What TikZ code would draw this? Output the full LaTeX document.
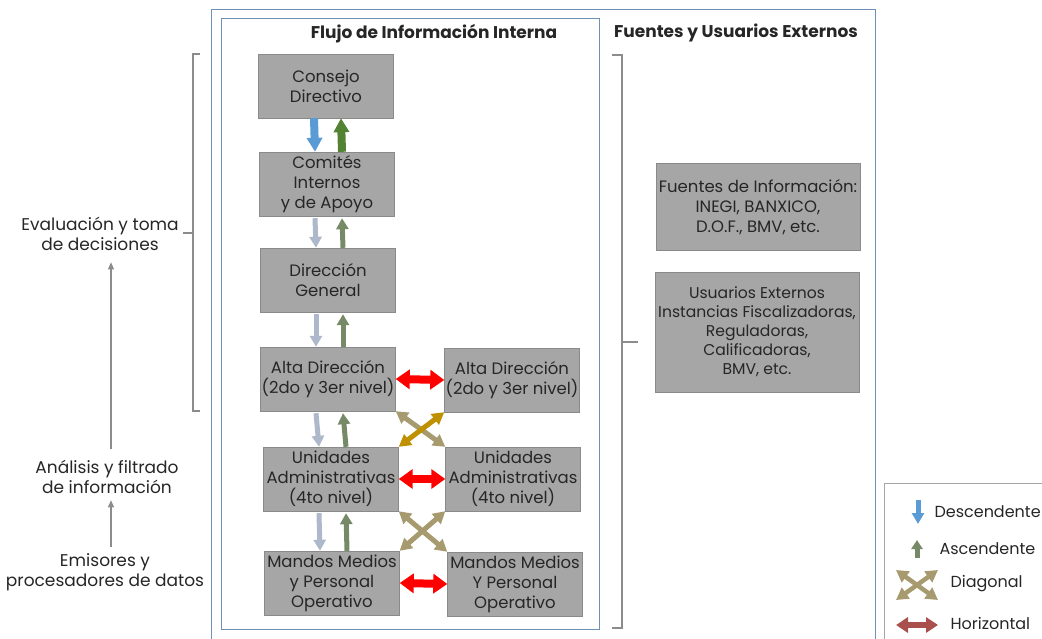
\documentclass[tikz,border=0pt]{standalone}
\usepackage{fontspec}
\setmainfont{Poppins}
\usetikzlibrary{arrows.meta,positioning}

\definecolor{boxgray}{HTML}{A6A6A6}
\definecolor{boxline}{HTML}{8A8A8A}
\definecolor{framecol}{HTML}{6F8FB5}
\definecolor{bracketcol}{HTML}{8C8C8C}
\definecolor{downblue}{HTML}{5B9BD5}
\definecolor{upgreen}{HTML}{548235}
\definecolor{downpale}{HTML}{ADB9CA}
\definecolor{upgray}{HTML}{768A68}
\definecolor{diagkhaki}{HTML}{A69A6E}
\definecolor{diaggold}{HTML}{BF9000}
\definecolor{horizred}{HTML}{FF0000}
\definecolor{legendred}{HTML}{A9504D}

\def\downsep{-12pt}
\def\upsep{15pt}

\begin{document}
\begin{tikzpicture}[x=1pt,y=-1pt,font=\fontsize{16.5}{20}\selectfont,text=black!85]
    \tikzstyle{box}=[rectangle,draw=boxline,fill=boxgray,minimum width=135pt,minimum height=64pt,inner sep=0pt,align=center]
    \tikzstyle{ext box}=[box,minimum width=204pt]
    \tikzstyle{small text}=[font=\fontsize{15.6}{19}\selectfont]
    \tikzstyle{annot}=[align=center,font=\fontsize{17}{20}\selectfont]
    \tikzstyle{legend text}=[anchor=west,font=\fontsize{16}{20}\selectfont]
    \tikzstyle{title}=[font=\fontsize{17}{20}\selectfont\bfseries]
    \tikzstyle{frame}=[draw=framecol,line width=0.9pt]
    \tikzstyle{bracket}=[draw=bracketcol,line width=1.8pt]
    \tikzstyle{step up}=[draw=bracketcol,line width=1.2pt,-{Triangle[width=6pt,length=7pt]}]
    \tikzstyle{big down}=[draw=downblue,line width=8pt,-{Triangle[width=15pt,length=14pt]}]
    \tikzstyle{big up}=[draw=upgreen,line width=8pt,-{Triangle[width=15pt,length=14pt]}]
    \tikzstyle{down}=[draw=downpale,line width=5pt,-{Triangle[width=12pt,length=11pt]}]
    \tikzstyle{up}=[draw=upgray,line width=5pt,-{Triangle[width=12pt,length=11pt]}]
    \tikzstyle{horiz}=[draw=horizred,line width=8pt,{Triangle[width=19pt,length=14pt]}-{Triangle[width=19pt,length=14pt]}]
    \tikzstyle{diag}=[draw=diagkhaki,line width=5pt,{Triangle[width=13pt,length=12pt]}-{Triangle[width=13pt,length=12pt]}]

    \useasboundingbox (0,0) rectangle (1042,639);

    % Frames
    \draw[frame] (211,639) -- (211,9) -- (875,9) -- (875,639);
    \draw[frame] (221,18) rectangle (599,629);
    \draw[draw=boxgray,line width=0.9pt] (884,639) -- (884,483) -- (1042,483);

    % Titles
    \node[title] (t-int) at (434,34) {Flujo de Información Interna};
    \node[title] (t-ext) at (736,33) {Fuentes y Usuarios Externos};

    % Internal flow, left column
    \node[box] (cd) at (326,86) {Consejo\\Directivo};
    \node[box] (ci) at (327,184) {Comités\\Internos\\y de Apoyo};
    \node[box] (dg) at (328,280) {Dirección\\General};
    \node[box] (ad-1) at (328,379) {Alta Dirección\\(2do y 3er nivel)};
    \node[box] (ua-1) at (331,479) {Unidades\\Administrativas\\(4to nivel)};
    \node[box] (mm-1) at (332,583) {Mandos Medios\\y Personal\\Operativo};

    % Internal flow, right column
    \node[box] (ad-2) at (512,380) {Alta Dirección\\(2do y 3er nivel)};
    \node[box] (ua-2) at (513,479) {Unidades\\Administrativas\\(4to nivel)};
    \node[box] (mm-2) at (515,584) {Mandos Medios\\Y Personal\\Operativo};

    % External sources and users
    \node[ext box,minimum height=87pt] (fi) at (758,207) {Fuentes de Información:\\INEGI, BANXICO,\\D.O.F., BMV, etc.};
    \node[ext box,small text,minimum height=120pt] (ue) at (757,332) {Usuarios Externos\\Instancias Fiscalizadoras,\\Reguladoras,\\Calificadoras,\\BMV, etc.};

    % Vertical flows
    \draw[big down] ([xshift=\downsep]cd.south) -- ([xshift=\downsep]ci.north);
    \draw[big up] ([xshift=\upsep]ci.north) -- ([xshift=\upsep]cd.south);
    \foreach \upper/\lower in {ci/dg,dg/ad-1,ad-1/ua-1,ua-1/mm-1} {
        \draw[down] ([xshift=\downsep,yshift=-2pt]\upper.south) -- ([xshift=\downsep]\lower.north);
        \draw[up] ([xshift=\upsep]\lower.north) -- ([xshift=\upsep,yshift=-2pt]\upper.south);
    }

    % Horizontal flows
    \foreach \level in {ad,ua,mm}
        \draw[horiz] (\level-1.east) -- (\level-2.west);

    % Diagonal flows
    \draw[diag] (ad-1.south east) -- (ua-2.north west);
    \draw[diag,draw=diaggold] (ua-1.north east) -- (ad-2.south west);
    \draw[diag] (ua-1.south east) -- (mm-2.north west);
    \draw[diag] (mm-1.north east) -- (ua-2.south west);

    % Brackets
    \draw[bracket] (200,54) -- (193,54) -- (193,411) -- (200,411);
    \draw[bracket] (193,233) -- (183,233);
    \draw[bracket] (612,55) -- (622,55) -- (622,628) -- (612,628);
    \draw[bracket] (622,342) -- (638,342);

    % Left side stages
    \node[annot] (ev) at (100,234) {Evaluación y toma\\de decisiones};
    \node[annot] (an) at (107,477) {Análisis y filtrado\\de información};
    \node[annot] (em) at (105,572) {Emisores y\\procesadores de datos};
    \draw[step up] ([xshift=4pt,yshift=8pt]an.north) -- ([xshift=11pt,yshift=-8pt]ev.south);
    \draw[step up] ([xshift=6pt,yshift=3pt]em.north) -- ([xshift=4pt,yshift=-3pt]an.south);

    % Legend
    \draw[down,draw=downblue,line width=5pt] (918,500) coordinate (l-d1) -- (918,524) coordinate (l-d2);
    \node[legend text] (l-desc) at (931,512) {Descendente};
    \draw[up,line width=5pt,-{Triangle[width=11pt,length=9pt]}] (917,558) coordinate (l-a1) -- (917,540) coordinate (l-a2);
    \node[legend text] (l-asc) at (936,549) {Ascendente};
    \draw[diag,line width=4.5pt] (896,600) -- (938,570);
    \draw[diag,line width=4.5pt] (896,570) -- (938,600);
    \node[legend text] (l-diag) at (947,584) {Diagonal};
    \draw[horiz,draw=legendred,line width=6pt,{Triangle[width=15pt,length=12pt]}-{Triangle[width=15pt,length=12pt]}] (896,625) -- (938,625);
    \node[legend text] (l-hor) at (947,623) {Horizontal};
\end{tikzpicture}
\end{document}
